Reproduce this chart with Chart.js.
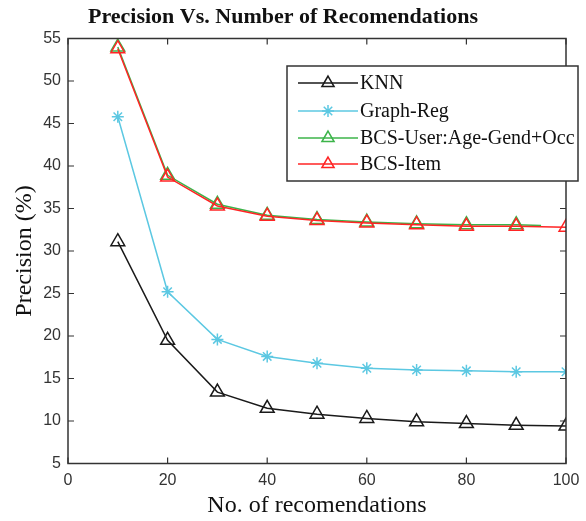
<!DOCTYPE html>
<html>
<head>
<meta charset="utf-8">
<script src="https://cdn.jsdelivr.net/npm/chart.js@4"></script>
<style>
  html, body { margin: 0; padding: 0; background: #fff; }
</style>
</head>
<body>
<canvas id="chart" width="586" height="521"></canvas>
<script>
// values
const recs = [10, 20, 30, 40, 50, 60, 70, 80, 90, 100];
const knn = [31.1, 19.5, 13.4, 11.5, 10.8, 10.3, 9.9, 9.7, 9.5, 9.4];
const graphReg = [45.8, 25.2, 19.6, 17.6, 16.8, 16.2, 16.0, 15.9, 15.8, 15.8];
const userRecs = [10, 20, 30, 40, 50, 60, 70, 80, 90, 95];
const bcsUser = [54.0, 38.9, 35.5, 34.2, 33.7, 33.4, 33.2, 33.1, 33.1, 33.0];
const bcsItem = [53.8, 38.7, 35.3, 34.1, 33.6, 33.3, 33.1, 32.9, 32.9, 32.8];
const xTicks = [0, 20, 40, 60, 80, 100];
const yTicks = [5, 10, 15, 20, 25, 30, 35, 40, 45, 50, 55];

const serif = "'Liberation Serif', 'Times New Roman', serif";
const sans = "'Liberation Sans', Arial, sans-serif";

function pts(xs, ys) {
  return xs.map((x, i) => ({ x: x, y: ys[i] }));
}

function series(label, xs, ys, color, style, radius, order) {
  return {
    label: label,
    data: pts(xs, ys),
    borderColor: color,
    backgroundColor: 'rgba(0,0,0,0)',
    pointBorderColor: color,
    pointBackgroundColor: 'rgba(0,0,0,0)',
    pointStyle: style,
    pointRadius: radius,
    pointBorderWidth: 1.5,
    borderWidth: 1.5,
    tension: 0,
    order: order
  };
}

const datasets = [
  series('KNN', recs, knn, '#1a1a1a', 'triangle', 8, 0),
  series('Graph-Reg', recs, graphReg, '#5cc8e2', 'star', 6, 0),
  series('BCS-User:Age-Gend+Occ', userRecs, bcsUser, '#3cb44a', 'triangle', 8, 2),
  series('BCS-Item', recs, bcsItem, '#ff2424', 'triangle', 8, 1)
];
// green line runs on a bit past its last marker
datasets[2].pointRadius = userRecs.map((x, i) => i === userRecs.length - 1 ? 0 : 8);

// box, inward ticks on all four sides, and the legend
const framePlugin = {
  id: 'frame',
  afterDraw(c) {
    const ctx = c.ctx;
    const a = c.chartArea;
    const xs = c.scales.x, ys = c.scales.y;
    ctx.save();
    ctx.strokeStyle = '#333';
    ctx.lineWidth = 1.5;
    ctx.strokeRect(a.left, a.top, a.right - a.left, a.bottom - a.top);
    ctx.lineWidth = 1.2;
    ctx.beginPath();
    xTicks.forEach(v => {
      const px = xs.getPixelForValue(v);
      ctx.moveTo(px, a.bottom); ctx.lineTo(px, a.bottom - 6);
      ctx.moveTo(px, a.top); ctx.lineTo(px, a.top + 6);
    });
    yTicks.forEach(v => {
      const py = ys.getPixelForValue(v);
      ctx.moveTo(a.left, py); ctx.lineTo(a.left + 6, py);
      ctx.moveTo(a.right, py); ctx.lineTo(a.right - 6, py);
    });
    ctx.stroke();

    // legend
    const bx = 287, by = 66, bw = 291, bh = 115;
    ctx.fillStyle = '#fff';
    ctx.fillRect(bx, by, bw, bh);
    ctx.strokeStyle = '#333';
    ctx.lineWidth = 1.5;
    ctx.strokeRect(bx, by, bw, bh);
    const rows = [83, 111, 138, 164];
    ctx.font = '20px ' + serif;
    ctx.textBaseline = 'middle';
    c.data.datasets.forEach((ds, i) => {
      const y = rows[i];
      ctx.strokeStyle = ds.borderColor;
      ctx.lineWidth = 1.5;
      ctx.beginPath();
      ctx.moveTo(298, y); ctx.lineTo(358, y);
      ctx.stroke();
      ctx.fillStyle = 'rgba(0,0,0,0)';
      Chart.helpers.drawPoint(ctx, {
        pointStyle: ds.pointStyle,
        radius: ds.pointStyle === 'star' ? 6 : 7,
        borderWidth: 1.5,
        rotation: 0
      }, 328, y);
      ctx.fillStyle = '#111';
      ctx.fillText(ds.label, 360, y + 1);
    });
    ctx.restore();
  }
};

new Chart(document.getElementById('chart'), {
  type: 'line',
  data: { datasets: datasets },
  options: {
    responsive: false,
    animation: false,
    layout: { padding: { left: 0, right: 20, top: 0, bottom: 0 } },
    plugins: {
      legend: { display: false },
      tooltip: { enabled: false },
      title: {
        display: true,
        text: 'Precision Vs. Number of Recomendations',
        color: '#111',
        font: { family: serif, size: 22, weight: 'bold' },
        padding: { top: 4.4, bottom: 7.7 }
      }
    },
    scales: {
      x: {
        type: 'linear',
        min: 0,
        max: 100,
        afterBuildTicks: s => { s.ticks = xTicks.map(v => ({ value: v })); },
        afterFit: s => { s.height = 57.5; s.paddingLeft = 0; s.paddingRight = 0; },
        grid: { display: false, drawTicks: false },
        border: { display: false },
        ticks: { color: '#333', font: { family: sans, size: 16 }, padding: 7, maxRotation: 0 },
        title: {
          display: true,
          text: 'No. of recomendations',
          color: '#111',
          font: { family: serif, size: 24 },
          padding: { top: 0, bottom: 1.2 }
        }
      },
      y: {
        min: 5,
        max: 55,
        afterBuildTicks: s => { s.ticks = yTicks.map(v => ({ value: v })); },
        afterFit: s => { s.width = 68; s.paddingTop = 0; s.paddingBottom = 0; },
        grid: { display: false, drawTicks: false },
        border: { display: false },
        ticks: { color: '#333', font: { family: sans, size: 16 }, padding: 7 },
        title: {
          display: true,
          text: 'Precision (%)',
          color: '#111',
          font: { family: serif, size: 24 },
          padding: { top: 10.6, bottom: 0 }
        }
      }
    }
  },
  plugins: [framePlugin]
});
</script>
</body>
</html>
